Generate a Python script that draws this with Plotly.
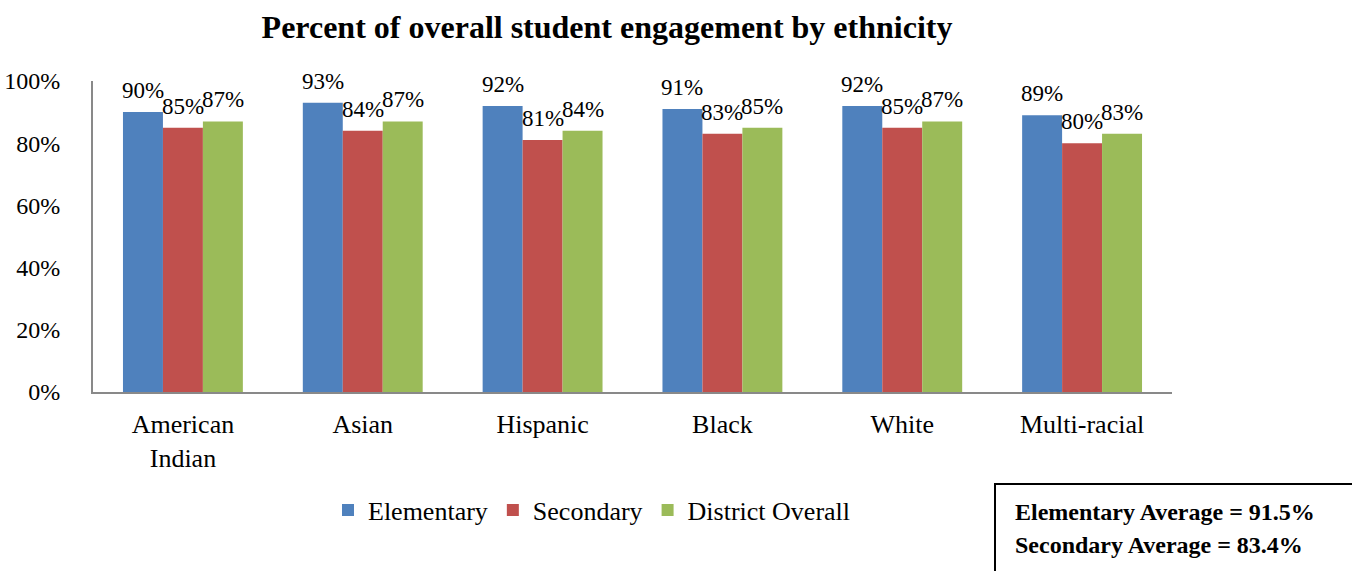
import plotly.graph_objects as go

# Engagement rates (percent) by ethnicity for each school level
categories = ["American<br>Indian", "Asian", "Hispanic", "Black", "White", "Multi-racial"]
elementary = [90, 93, 92, 91, 92, 89]
secondary = [85, 84, 81, 83, 85, 80]
district_overall = [87, 87, 84, 85, 87, 83]

series_names = ["Elementary", "Secondary", "District Overall"]
series_values = [elementary, secondary, district_overall]
series_colors = ["#4F81BD", "#C0504D", "#9BBB59"]

y_ticks = [0, 20, 40, 60, 80, 100]
y_tick_labels = ["0%", "20%", "40%", "60%", "80%", "100%"]

summary_lines = ["Elementary Average = 91.5%", "Secondary Average = 83.4%"]

FONT = "Liberation Serif, Times New Roman, serif"

L, R, T, B = 93, 180, 81, 179
W, H = 1352, 571
plot_w = W - L - R
plot_h = H - T - B


def px_x(px):
    return (px - L) / plot_w


def px_y(py):
    return (H - B - py) / plot_h


fig = go.Figure()
for name, vals, color in zip(series_names, series_values, series_colors):
    fig.add_trace(go.Bar(
        x=categories, y=vals, name=name,
        marker=dict(color=color, line=dict(width=0)),
    ))

# Value labels sit above each bar, offset to its slot within the group
cat_w = plot_w / len(categories)
bar_w = cat_w * (2 / 3) / 3
for i, vals in enumerate(series_values):
    for cat, v in zip(categories, vals):
        fig.add_annotation(
            x=cat, y=v, xref="x", yref="y",
            text=f"{v}%", showarrow=False,
            xshift=(i - 1) * bar_w, yshift=7, yanchor="bottom",
            font=dict(family=FONT, size=23, color="#000000"),
        )

# Averages summary, one bold line each
for line_text, cy in zip(summary_lines, [512, 545]):
    fig.add_annotation(
        xref="paper", yref="paper", x=px_x(1013), y=px_y(cy),
        text=f"<b>{line_text}</b>", showarrow=False,
        xanchor="left", yanchor="middle",
        font=dict(family=FONT, size=24, color="#000000"),
    )

# Outlined box around the averages summary
fig.add_shape(
    type="rect", xref="paper", yref="paper",
    x0=px_x(995), x1=px_x(1362), y0=px_y(582), y1=px_y(484),
    line=dict(color="#000000", width=2), fillcolor="rgba(0,0,0,0)",
)

fig.update_layout(
    width=W, height=H,
    margin=dict(l=L, r=R, t=T, b=B),
    paper_bgcolor="white", plot_bgcolor="white",
    barmode="group", bargap=1 / 3, bargroupgap=0,
    font=dict(family=FONT, size=24, color="#000000"),
    title=dict(
        text="<b>Percent of overall student engagement by ethnicity</b>",
        xref="container", x=607 / W, xanchor="center",
        yref="container", y=1 - 27 / H, yanchor="middle",
        font=dict(family=FONT, size=32, color="#000000"),
    ),
    showlegend=True,
    legend=dict(
        orientation="h", xref="container", yref="container",
        x=592 / W, xanchor="center", y=1 - 510 / H, yanchor="middle",
        font=dict(family=FONT, size=26, color="#000000"),
        itemwidth=30, tracegroupgap=0,
    ),
    xaxis=dict(
        showline=True, linecolor="#898989", linewidth=2,
        showgrid=False, zeroline=False, ticks="",
        ticklabelstandoff=8, automargin=False,
        tickfont=dict(family=FONT, size=26),
    ),
    yaxis=dict(
        range=[0, 100], tickvals=y_ticks, ticktext=y_tick_labels,
        showline=True, linecolor="#898989", linewidth=2,
        showgrid=False, zeroline=False, ticks="",
        ticklabelstandoff=26, automargin=False,
        tickfont=dict(family=FONT, size=24),
    ),
)

fig.write_html("out.html")
